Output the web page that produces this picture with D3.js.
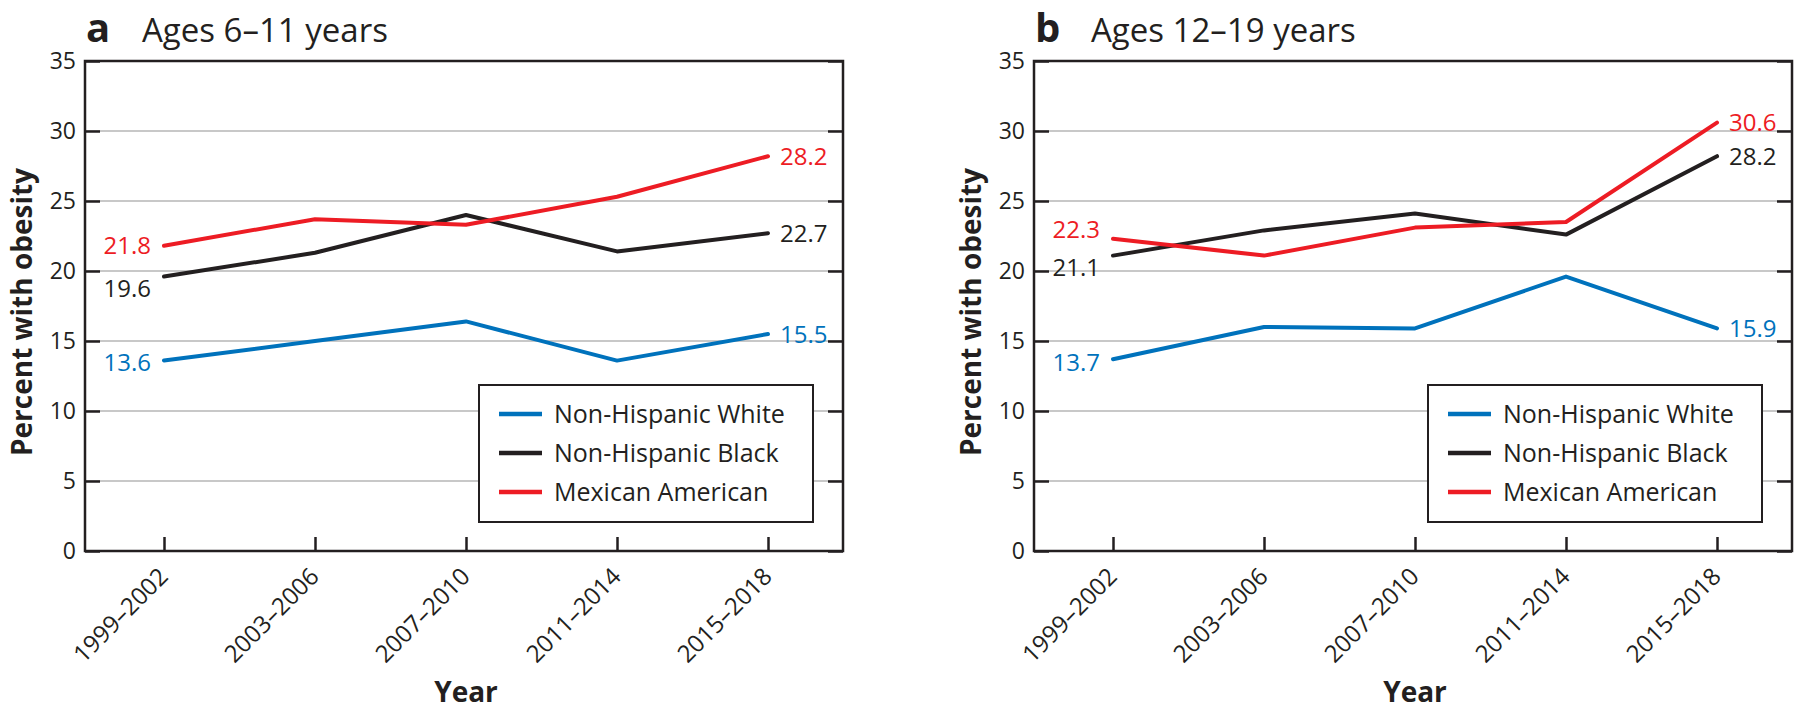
<!DOCTYPE html>
<html>
<head>
<meta charset="utf-8">
<script src="https://cdn.jsdelivr.net/npm/d3@7"></script>
<style>
  html, body { margin: 0; padding: 0; background: #fff; }
  svg { display: block; font-family: "Open Sans", "Noto Sans", sans-serif; }
</style>
</head>
<body>
<svg id="chart" width="1800" height="710"></svg>
<script>
// ---------- data ----------
const categories = ["1999–2002", "2003–2006", "2007–2010", "2011–2014", "2015–2018"];
const seriesNames = ["Non-Hispanic White", "Non-Hispanic Black", "Mexican American"];
const yTickValues = [0, 5, 10, 15, 20, 25, 30, 35];

// Panel a: Ages 6–11 years
const a_white = [13.6, 15.0, 16.4, 13.6, 15.5];
const a_black = [19.6, 21.3, 24.0, 21.4, 22.7];
const a_mexican = [21.8, 23.7, 23.3, 25.3, 28.2];

// Panel b: Ages 12–19 years
const b_white = [13.7, 16.0, 15.9, 19.6, 15.9];
const b_black = [21.1, 22.9, 24.1, 22.6, 28.2];
const b_mexican = [22.3, 21.1, 23.1, 23.5, 30.6];

// ---------- styles ----------
const colors = ["#0072bc", "#231f20", "#ed1c24"];
const axisColor = "#231f20";
const gridColor = "#c8c8c8";

const panels = [
  { letter: "a", title: "Ages 6–11 years", left: 85,
    values: [a_white, a_black, a_mexican],
    startDy: [2, 12, 0] },
  { letter: "b", title: "Ages 12–19 years", left: 1034,
    values: [b_white, b_black, b_mexican],
    startDy: [3, 12, -9] }
];

const plotTop = 61, plotW = 758, plotH = 490;
const svg = d3.select("#chart");

const y = d3.scaleLinear().domain([0, 35]).range([plotH, 0]);
const x = d3.scalePoint().domain(categories).range([79, 683]);

panels.forEach(p => {
  const g = svg.append("g").attr("transform", `translate(${p.left},${plotTop})`);

  // gridlines
  g.append("g").selectAll("line")
    .data(yTickValues.filter(v => v > 0 && v < 35))
    .join("line")
    .attr("x1", 0).attr("x2", plotW)
    .attr("y1", d => y(d)).attr("y2", d => y(d))
    .attr("stroke", gridColor).attr("stroke-width", 2);

  // left axis
  const yl = g.append("g").call(
    d3.axisLeft(y).tickValues(yTickValues).tickSizeInner(-15).tickSizeOuter(0).tickPadding(9)
  );
  // right axis
  const yr = g.append("g").attr("transform", `translate(${plotW},0)`).call(
    d3.axisRight(y).tickValues(yTickValues).tickSizeInner(-15).tickSizeOuter(0).tickFormat("")
  );
  // bottom axis
  const xb = g.append("g").attr("transform", `translate(0,${plotH})`).call(
    d3.axisBottom(x).tickSizeInner(-14).tickSizeOuter(0)
  );
  [yl, yr, xb].forEach(ax => {
    ax.select(".domain").remove();
    ax.selectAll(".tick line").attr("stroke", axisColor).attr("stroke-width", 2.5);
    ax.selectAll("text").attr("fill", axisColor).attr("font-family", "'Open Sans', sans-serif");
  });
  yl.selectAll("text").attr("font-size", 23);
  xb.selectAll("text")
    .attr("font-size", 24)
    .attr("text-anchor", "end")
    .attr("x", 0).attr("y", 0).attr("dy", 0)
    .attr("transform", "translate(5,27) rotate(-45)");

  // frame
  g.append("rect")
    .attr("x", 0).attr("y", 0).attr("width", plotW).attr("height", plotH)
    .attr("fill", "none").attr("stroke", axisColor).attr("stroke-width", 2.5);

  // lines
  const line = d3.line().x((d, i) => x(categories[i])).y(d => y(d));
  p.values.forEach((vals, si) => {
    g.append("path")
      .datum(vals)
      .attr("d", line)
      .attr("fill", "none")
      .attr("stroke", colors[si])
      .attr("stroke-width", 4)
      .attr("stroke-linejoin", "round")
      .attr("stroke-linecap", "round");
  });

  // value labels
  p.values.forEach((vals, si) => {
    const first = vals[0], last = vals[vals.length - 1];
    g.append("text")
      .attr("x", x(categories[0]) - 13)
      .attr("y", y(first) + p.startDy[si])
      .attr("dy", "0.36em")
      .attr("text-anchor", "end")
      .attr("font-size", 24)
      .attr("fill", colors[si])
      .text(d3.format(".1f")(first));
    g.append("text")
      .attr("x", x(categories[categories.length - 1]) + 12)
      .attr("y", y(last))
      .attr("dy", "0.36em")
      .attr("text-anchor", "start")
      .attr("font-size", 24)
      .attr("fill", colors[si])
      .text(d3.format(".1f")(last));
  });

  // legend
  const lg = g.append("g").attr("transform", "translate(394,324)");
  lg.append("rect")
    .attr("width", 334).attr("height", 137)
    .attr("fill", "#fff").attr("stroke", axisColor).attr("stroke-width", 2);
  seriesNames.forEach((name, i) => {
    const ry = 29 + i * 39;
    lg.append("line")
      .attr("x1", 20).attr("x2", 63).attr("y1", ry).attr("y2", ry)
      .attr("stroke", colors[i]).attr("stroke-width", 4.5);
    lg.append("text")
      .attr("x", 75).attr("y", ry).attr("dy", "0.36em")
      .attr("font-size", 25).attr("fill", axisColor)
      .text(name);
  });

  // title
  g.append("text")
    .attr("x", 1).attr("y", -19)
    .attr("font-size", 40).attr("font-weight", 700).attr("fill", axisColor)
    .text(p.letter);
  g.append("text")
    .attr("x", 57).attr("y", -19)
    .attr("font-size", 33).attr("fill", axisColor)
    .text(p.title);

  // axis titles
  g.append("text")
    .attr("transform", `translate(-53,${plotH / 2 + 6}) rotate(-90)`)
    .attr("text-anchor", "middle")
    .attr("font-size", 28).attr("font-weight", 700).attr("fill", axisColor)
    .text("Percent with obesity");
  g.append("text")
    .attr("x", 381).attr("y", plotH + 151)
    .attr("text-anchor", "middle")
    .attr("font-size", 28).attr("font-weight", 700).attr("fill", axisColor)
    .text("Year");
});
</script>
</body>
</html>
